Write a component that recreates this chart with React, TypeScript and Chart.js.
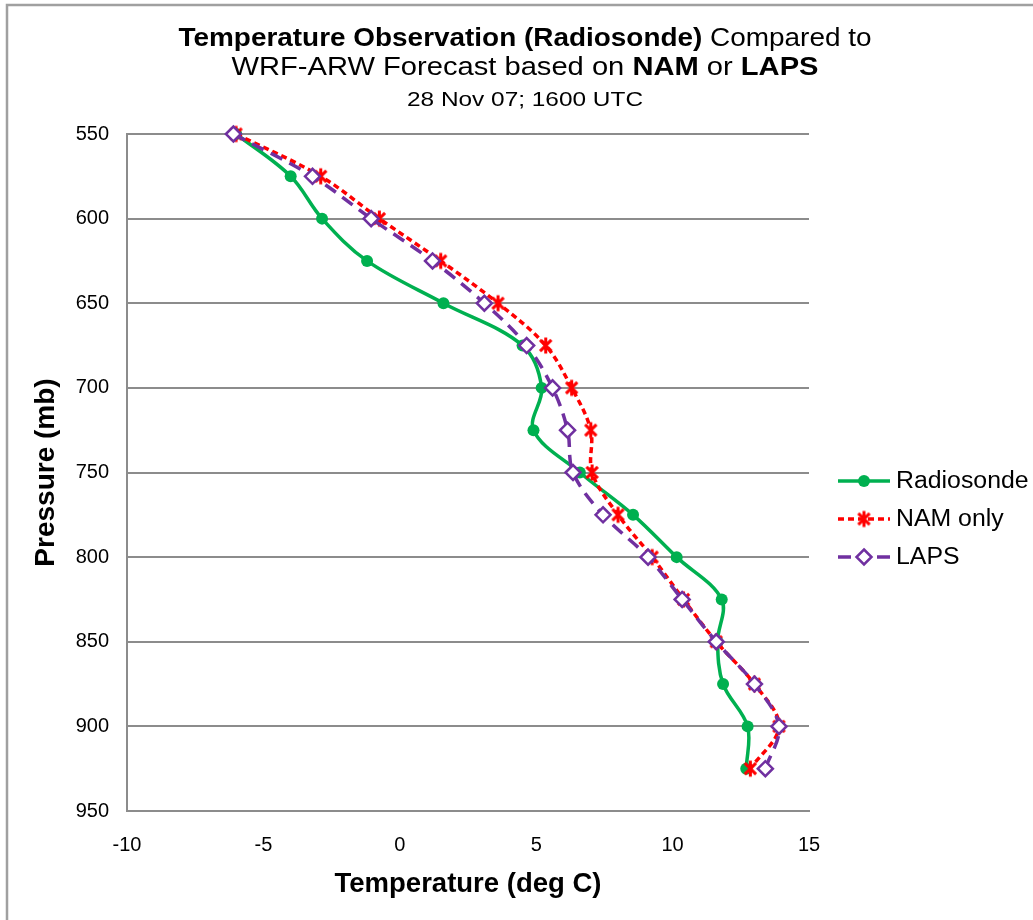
import React, { useEffect, useRef } from "react";
import { Chart, registerables } from "chart.js";
Chart.register(...registerables);

// ---- Data ----
const pressureLevels = [550, 575, 600, 625, 650, 675, 700, 725, 750, 775, 800, 825, 850, 875, 900, 925];
const radiosondeTemps = [-6.0, -4.0, -2.85, -1.2, 1.6, 4.5, 5.2, 4.9, 6.6, 8.55, 10.15, 11.8, 11.65, 11.85, 12.75, 12.7];
const namTemps = [-6.0, -2.9, -0.75, 1.5, 3.6, 5.35, 6.3, 7.0, 7.05, 8.0, 9.25, 10.4, 11.6, 13.0, 13.9, 12.85];
const lapsTemps = [-6.1, -3.2, -1.05, 1.2, 3.1, 4.65, 5.6, 6.15, 6.35, 7.45, 9.1, 10.35, 11.6, 13.0, 13.9, 13.4];
const seriesNames = ["Radiosonde", "NAM only", "LAPS"];
const xTickValues = [-10, -5, 0, 5, 10, 15];
const yTickValues = [550, 600, 650, 700, 750, 800, 850, 900, 950];

const FONT = "'Liberation Sans', Arial, sans-serif";
const GREEN = "#00B050";
const RED = "#FF0000";
const PURPLE = "#7030A0";
const GRID = "#8C8C8C";

function makeStar(color: string, size: number, lw: number): HTMLCanvasElement {
  const c = document.createElement("canvas");
  c.width = size;
  c.height = size;
  const g = c.getContext("2d")!;
  g.strokeStyle = color;
  g.lineWidth = lw;
  const m = size / 2;
  const r = size / 2 - 1.5;
  const d = r * Math.SQRT1_2;
  g.beginPath();
  g.moveTo(m, m - r);
  g.lineTo(m, m + r);
  g.moveTo(m - d, m - d);
  g.lineTo(m + d, m + d);
  g.moveTo(m + d, m - d);
  g.lineTo(m - d, m + d);
  g.stroke();
  return c;
}

type Seg = { t: string; bold: boolean };

function drawMixed(ctx: CanvasRenderingContext2D, segs: Seg[], cx: number, baseline: number, size: number, targetW: number) {
  let w = 0;
  const widths: number[] = [];
  for (const s of segs) {
    ctx.font = `${s.bold ? "bold " : ""}${size}px ${FONT}`;
    const mw = ctx.measureText(s.t).width;
    widths.push(mw);
    w += mw;
  }
  const sx = targetW / w;
  ctx.save();
  ctx.translate(cx - targetW / 2, baseline);
  ctx.scale(sx, 1);
  ctx.fillStyle = "#000";
  ctx.textBaseline = "alphabetic";
  ctx.textAlign = "left";
  let x = 0;
  segs.forEach((s, i) => {
    ctx.font = `${s.bold ? "bold " : ""}${size}px ${FONT}`;
    ctx.fillText(s.t, x, 0);
    x += widths[i];
  });
  ctx.restore();
}

export default function App() {
  const ref = useRef<HTMLCanvasElement | null>(null);

  useEffect(() => {
    document.body.style.margin = "0";
    const canvas = ref.current!;
    const star = makeStar(RED, 19, 3);

    const toPts = (temps: number[]) => temps.map((t, i) => ({ x: t, y: pressureLevels[i] }));

    const framePlugin = {
      id: "frame",
      beforeDraw(chart: any) {
        const ctx = chart.ctx as CanvasRenderingContext2D;
        ctx.save();
        ctx.fillStyle = "#fff";
        ctx.fillRect(0, 0, chart.width, chart.height);
        ctx.strokeStyle = "#A0A0A0";
        ctx.lineWidth = 2.5;
        ctx.beginPath();
        ctx.moveTo(7, chart.height);
        ctx.lineTo(7, 5);
        ctx.lineTo(chart.width, 5);
        ctx.stroke();
        ctx.restore();
      },
      afterDraw(chart: any) {
        const ctx = chart.ctx as CanvasRenderingContext2D;
        // Title
        drawMixed(ctx, [
          { t: "Temperature Observation (Radiosonde)", bold: true },
          { t: " Compared to", bold: false },
        ], 525, 46, 26, 693);
        drawMixed(ctx, [
          { t: "WRF-ARW Forecast based on ", bold: false },
          { t: "NAM", bold: true },
          { t: " or ", bold: false },
          { t: "LAPS", bold: true },
        ], 525, 75, 25, 587);
        drawMixed(ctx, [{ t: "28 Nov 07; 1600 UTC", bold: false }], 525, 106, 20, 236);

        // Legend
        const ys = [481, 519, 557];
        const x0 = 838, x1 = 890, xm = 864;
        ctx.save();
        // Radiosonde
        ctx.strokeStyle = GREEN;
        ctx.lineWidth = 3.5;
        ctx.beginPath();
        ctx.moveTo(x0, ys[0]);
        ctx.lineTo(x1, ys[0]);
        ctx.stroke();
        ctx.fillStyle = GREEN;
        ctx.beginPath();
        ctx.arc(xm, ys[0], 6, 0, Math.PI * 2);
        ctx.fill();
        // NAM
        ctx.strokeStyle = RED;
        ctx.setLineDash([6, 4]);
        ctx.beginPath();
        ctx.moveTo(x0, ys[1]);
        ctx.lineTo(x1, ys[1]);
        ctx.stroke();
        ctx.setLineDash([]);
        ctx.drawImage(star, xm - star.width / 2, ys[1] - star.height / 2);
        // LAPS
        ctx.strokeStyle = PURPLE;
        ctx.beginPath();
        ctx.moveTo(x0, ys[2]);
        ctx.lineTo(x0 + 13, ys[2]);
        ctx.moveTo(x1 - 13, ys[2]);
        ctx.lineTo(x1, ys[2]);
        ctx.stroke();
        ctx.lineWidth = 2.5;
        ctx.fillStyle = "#fff";
        ctx.beginPath();
        const r = 7.5;
        ctx.moveTo(xm, ys[2] - r);
        ctx.lineTo(xm + r, ys[2]);
        ctx.lineTo(xm, ys[2] + r);
        ctx.lineTo(xm - r, ys[2]);
        ctx.closePath();
        ctx.fill();
        ctx.stroke();
        // Legend text
        ctx.fillStyle = "#000";
        ctx.textBaseline = "middle";
        ctx.textAlign = "left";
        ctx.font = `23px ${FONT}`;
        seriesNames.forEach((n, i) => {
          ctx.save();
          ctx.translate(896, ys[i] + 1);
          ctx.scale(1.08, 1);
          ctx.fillText(n, 0, 0);
          ctx.restore();
        });
        ctx.restore();
      },
    };

    const chart = new Chart(canvas, {
      type: "scatter",
      data: {
        datasets: [
          {
            label: seriesNames[0],
            data: toPts(radiosondeTemps),
            showLine: true,
            borderColor: GREEN,
            backgroundColor: GREEN,
            borderWidth: 3.5,
            tension: 0.35,
            pointStyle: "circle",
            pointRadius: 6,
            pointBackgroundColor: GREEN,
            pointBorderColor: GREEN,
            pointBorderWidth: 0,
            clip: false,
            order: 3,
          },
          {
            label: seriesNames[1],
            data: toPts(namTemps),
            showLine: true,
            borderColor: RED,
            backgroundColor: RED,
            borderWidth: 3.5,
            borderDash: [6, 4],
            tension: 0.35,
            pointStyle: star as any,
            pointRadius: 9,
            clip: false,
            order: 2,
          },
          {
            label: seriesNames[2],
            data: toPts(lapsTemps),
            showLine: true,
            borderColor: PURPLE,
            backgroundColor: "#fff",
            borderWidth: 3.5,
            borderDash: [13, 8],
            tension: 0.35,
            pointStyle: "rectRot",
            pointRadius: 7.5,
            pointBackgroundColor: "#fff",
            pointBorderColor: PURPLE,
            pointBorderWidth: 2.5,
            clip: false,
            order: 1,
          },
        ] as any,
      },
      options: {
        responsive: false,
        animation: false,
        events: [],
        layout: { padding: { top: 134, left: 0, right: 224, bottom: 0 } },
        plugins: {
          legend: { display: false },
          title: { display: false },
          tooltip: { enabled: false },
        },
        scales: {
          x: {
            type: "linear",
            min: -10,
            max: 15,
            afterBuildTicks: (s: any) => {
              s.ticks = xTickValues.map((v) => ({ value: v }));
            },
            afterFit: (s: any) => {
              s.height = 109;
            },
            grid: { display: false, drawTicks: false },
            border: { display: true, color: GRID, width: 2 },
            ticks: { color: "#000", font: { family: FONT, size: 20 }, padding: 22 },
            title: {
              display: true,
              text: "Temperature (deg C)",
              color: "#000",
              font: { family: FONT, size: 27.5, weight: "bold" },
              padding: { top: 0, bottom: 19 },
            },
          },
          y: {
            type: "linear",
            reverse: true,
            min: 550,
            max: 950,
            afterBuildTicks: (s: any) => {
              s.ticks = yTickValues.map((v) => ({ value: v }));
            },
            afterFit: (s: any) => {
              s.width = 127;
            },
            grid: { display: true, color: GRID, lineWidth: 2, drawTicks: false },
            border: { display: true, color: GRID, width: 2 },
            ticks: { color: "#000", font: { family: FONT, size: 20 }, padding: 18 },
            title: {
              display: true,
              text: "Pressure (mb)",
              color: "#000",
              font: { family: FONT, size: 28, weight: "bold" },
              padding: { top: 29, bottom: 0 },
            },
          },
        },
      } as any,
      plugins: [framePlugin],
    });
    return () => chart.destroy();
  }, []);

  return <canvas ref={ref} width={1033} height={920} style={{ display: "block" }} />;
}
